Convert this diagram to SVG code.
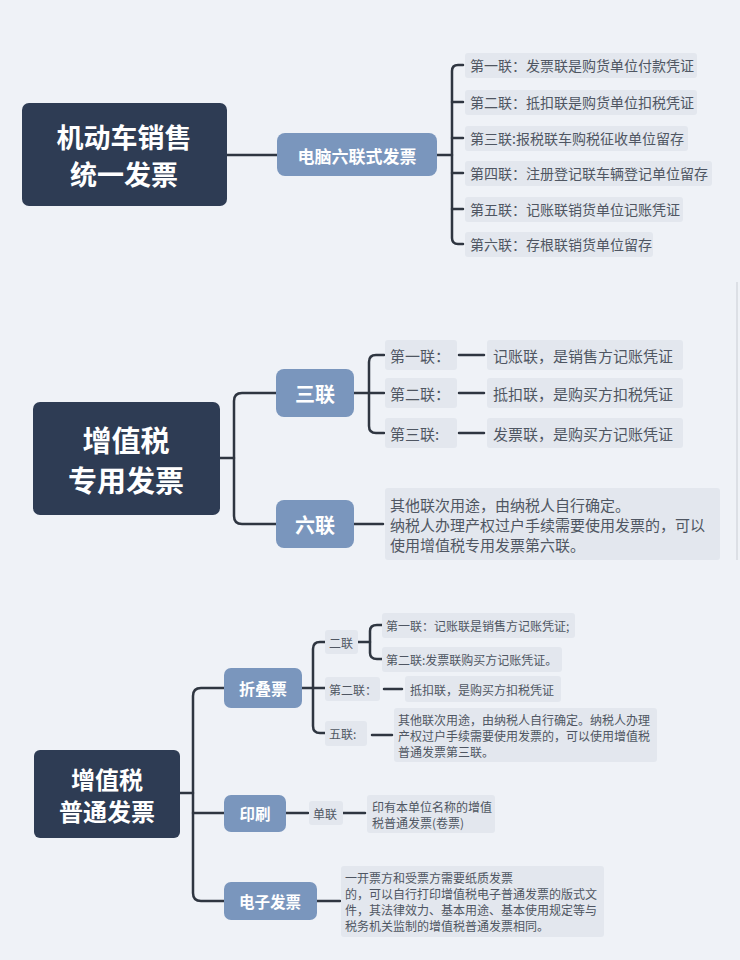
<svg xmlns="http://www.w3.org/2000/svg" width="740" height="960" viewBox="0 0 740 960">
<style>
text{font-family:"Noto Sans CJK SC","Noto Sans",sans-serif;dominant-baseline:central}
.root{fill:#2e3c54}
.rt{fill:#ffffff;font-weight:700;text-anchor:middle}
.mid{fill:#7a96bd}
.mt{fill:#ffffff;font-weight:700;text-anchor:middle}
.leaf{fill:#e3e7ee}
.lt{fill:#4f5662;font-size:14px}
.lt15{fill:#4f5662;font-size:15px}
.lt12{fill:#4f5662;font-size:12px}
.con{fill:none;stroke:#2f3641;stroke-width:2.5;stroke-linecap:round;stroke-linejoin:round}
</style>
<rect x="0" y="0" width="740" height="960" fill="#eff2f7"/>
<line x1="737" y1="282" x2="737" y2="560" stroke="#c9cdd4" stroke-width="1"/>

<g id="connectors">
  <path class="con" d="M226,155 H277"/>
  <path class="con" d="M437,155 H452"/>
  <path class="con" d="M463,65 H458 Q452,65 452,71 V238 Q452,244 458,244 H463"/>
  <path class="con" d="M452,102 H463 M452,138 H463 M452,173 H463 M452,209 H463"/>
  <path class="con" d="M219,458 H234"/>
  <path class="con" d="M276,393 H242 Q234,393 234,401 V516 Q234,524 242,524 H276"/>
  <path class="con" d="M354,393 H369"/>
  <path class="con" d="M384,355 H376 Q369,355 369,362 V426 Q369,433 376,433 H384"/>
  <path class="con" d="M369,393 H384"/>
  <path class="con" d="M459,355 H484 M459,393 H484 M459,433 H484"/>
  <path class="con" d="M354,524 H383"/>
  <path class="con" d="M180,793 H193"/>
  <path class="con" d="M224,688 H201 Q193,688 193,696 V893 Q193,901 201,901 H224"/>
  <path class="con" d="M193,813 H224"/>
  <path class="con" d="M302,688 H313"/>
  <path class="con" d="M325,642 H320 Q313,642 313,649 V726 Q313,733 320,733 H325"/>
  <path class="con" d="M313,688 H325"/>
  <path class="con" d="M358,642 H370"/>
  <path class="con" d="M382,625 H377 Q370,625 370,631 V653 Q370,659 377,659 H382"/>
  <path class="con" d="M384,689 H402"/>
  <path class="con" d="M372,735 H392"/>
  <path class="con" d="M286,813 H308"/>
  <path class="con" d="M343,813 H365"/>
  <path class="con" d="M317,901 H340"/>
</g>

<g id="root1">
  <rect class="root" x="22" y="103" width="205" height="103" rx="7"/>
  <text class="rt" font-size="27"><tspan x="124" y="136">机动车销售</tspan><tspan x="124" y="173">统一发票</tspan></text>
</g>
<g id="pc6">
  <rect class="mid" x="277" y="133" width="160" height="43" rx="8"/>
  <text class="mt" x="357" y="155" font-size="17">电脑六联式发票</text>
</g>
<g id="t1">
  <rect class="leaf" x="465" y="53" width="232" height="25" rx="3"/>
  <text class="lt" x="470" y="65">第一联：发票联是购货单位付款凭证</text>
</g>
<g id="t2">
  <rect class="leaf" x="465" y="90" width="232" height="25" rx="3"/>
  <text class="lt" x="470" y="102">第二联：抵扣联是购货单位扣税凭证</text>
</g>
<g id="t3">
  <rect class="leaf" x="465" y="126" width="223" height="25" rx="3"/>
  <text class="lt" x="470" y="138">第三联:报税联车购税征收单位留存</text>
</g>
<g id="t4">
  <rect class="leaf" x="465" y="161" width="247" height="25" rx="3"/>
  <text class="lt" x="470" y="173">第四联：注册登记联车辆登记单位留存</text>
</g>
<g id="t5">
  <rect class="leaf" x="465" y="197" width="218" height="25" rx="3"/>
  <text class="lt" x="470" y="209">第五联：记账联销货单位记账凭证</text>
</g>
<g id="t6">
  <rect class="leaf" x="465" y="232" width="188" height="25" rx="3"/>
  <text class="lt" x="470" y="244">第六联：存根联销货单位留存</text>
</g>

<g id="root2">
  <rect class="root" x="33" y="402" width="187" height="113" rx="7"/>
  <text class="rt" font-size="29"><tspan x="126" y="439">增值税</tspan><tspan x="126" y="479">专用发票</tspan></text>
</g>
<g id="san">
  <rect class="mid" x="276" y="369" width="78" height="48" rx="8"/>
  <text class="mt" x="315" y="393" font-size="20">三联</text>
</g>
<g id="liu">
  <rect class="mid" x="276" y="500" width="78" height="48" rx="8"/>
  <text class="mt" x="315" y="524" font-size="20">六联</text>
</g>
<g id="s1l">
  <rect class="leaf" x="385" y="340" width="72" height="30" rx="3"/>
  <text class="lt15" x="390" y="355">第一联：</text>
</g>
<g id="s1v">
  <rect class="leaf" x="487" y="340" width="196" height="30" rx="3"/>
  <text class="lt15" x="493" y="355">记账联，是销售方记账凭证</text>
</g>
<g id="s2l">
  <rect class="leaf" x="385" y="378" width="72" height="30" rx="3"/>
  <text class="lt15" x="390" y="393">第二联：</text>
</g>
<g id="s2v">
  <rect class="leaf" x="487" y="378" width="196" height="30" rx="3"/>
  <text class="lt15" x="493" y="393">抵扣联，是购买方扣税凭证</text>
</g>
<g id="s3l">
  <rect class="leaf" x="385" y="418" width="72" height="30" rx="3"/>
  <text class="lt15" x="390" y="433">第三联:</text>
</g>
<g id="s3v">
  <rect class="leaf" x="487" y="418" width="196" height="30" rx="3"/>
  <text class="lt15" x="493" y="433">发票联，是购买方记账凭证</text>
</g>
<g id="liutext">
  <rect class="leaf" x="385" y="488" width="335" height="72" rx="3"/>
  <text class="lt15"><tspan x="390" y="504">其他联次用途，由纳税人自行确定。</tspan><tspan x="390" y="524">纳税人办理产权过户手续需要使用发票的，可以</tspan><tspan x="390" y="544">使用增值税专用发票第六联。</tspan></text>
</g>

<g id="root3">
  <rect class="root" x="34" y="750" width="146" height="88" rx="6"/>
  <text class="rt" font-size="24"><tspan x="107" y="778">增值税</tspan><tspan x="107" y="810">普通发票</tspan></text>
</g>
<g id="zdp">
  <rect class="mid" x="224" y="668" width="78" height="40" rx="7"/>
  <text class="mt" x="263" y="688" font-size="16">折叠票</text>
</g>
<g id="ys">
  <rect class="mid" x="224" y="795" width="62" height="37" rx="7"/>
  <text class="mt" x="255" y="813" font-size="15.5">印刷</text>
</g>
<g id="dzfp">
  <rect class="mid" x="224" y="882" width="93" height="38" rx="7"/>
  <text class="mt" x="270" y="901" font-size="15.5">电子发票</text>
</g>
<g id="erlian">
  <rect class="leaf" x="325" y="630" width="33" height="24" rx="3"/>
  <text class="lt12" x="329" y="642">二联</text>
</g>
<g id="el1">
  <rect class="leaf" x="382" y="613" width="193" height="25" rx="3"/>
  <text class="lt12" x="386" y="625">第一联：记账联是销售方记账凭证;</text>
</g>
<g id="el2">
  <rect class="leaf" x="382" y="647" width="180" height="25" rx="3"/>
  <text class="lt12" x="386" y="659">第二联:发票联购买方记账凭证。</text>
</g>
<g id="b2l">
  <rect class="leaf" x="325" y="677" width="55" height="24" rx="3"/>
  <text class="lt12" x="329" y="689">第二联：</text>
</g>
<g id="b2v">
  <rect class="leaf" x="405" y="676" width="156" height="26" rx="3"/>
  <text class="lt12" x="410" y="689">抵扣联，是购买方扣税凭证</text>
</g>
<g id="wl">
  <rect class="leaf" x="325" y="721" width="42" height="25" rx="3"/>
  <text class="lt12" x="329" y="733">五联:</text>
</g>
<g id="wltext">
  <rect class="leaf" x="394" y="708" width="263" height="54" rx="3"/>
  <text class="lt12"><tspan x="398" y="719">其他联次用途，由纳税人自行确定。纳税人办理</tspan><tspan x="398" y="735">产权过户手续需要使用发票的，可以使用增值税</tspan><tspan x="398" y="751">普通发票第三联。</tspan></text>
</g>
<g id="dl">
  <rect class="leaf" x="309" y="801" width="34" height="24" rx="3"/>
  <text class="lt12" x="313" y="813">单联</text>
</g>
<g id="dltext">
  <rect class="leaf" x="367" y="795" width="128" height="38" rx="3"/>
  <text class="lt12"><tspan x="372" y="806">印有本单位名称的增值</tspan><tspan x="372" y="822">税普通发票(卷票)</tspan></text>
</g>
<g id="dztext">
  <rect class="leaf" x="341" y="866" width="263" height="71" rx="3"/>
  <text class="lt12"><tspan x="345" y="877">一开票方和受票方需要纸质发票</tspan><tspan x="345" y="893">的，可以自行打印增值税电子普通发票的版式文</tspan><tspan x="345" y="909">件，其法律效力、基本用途、基本使用规定等与</tspan><tspan x="345" y="925">税务机关监制的增值税普通发票相同。</tspan></text>
</g>
</svg>
